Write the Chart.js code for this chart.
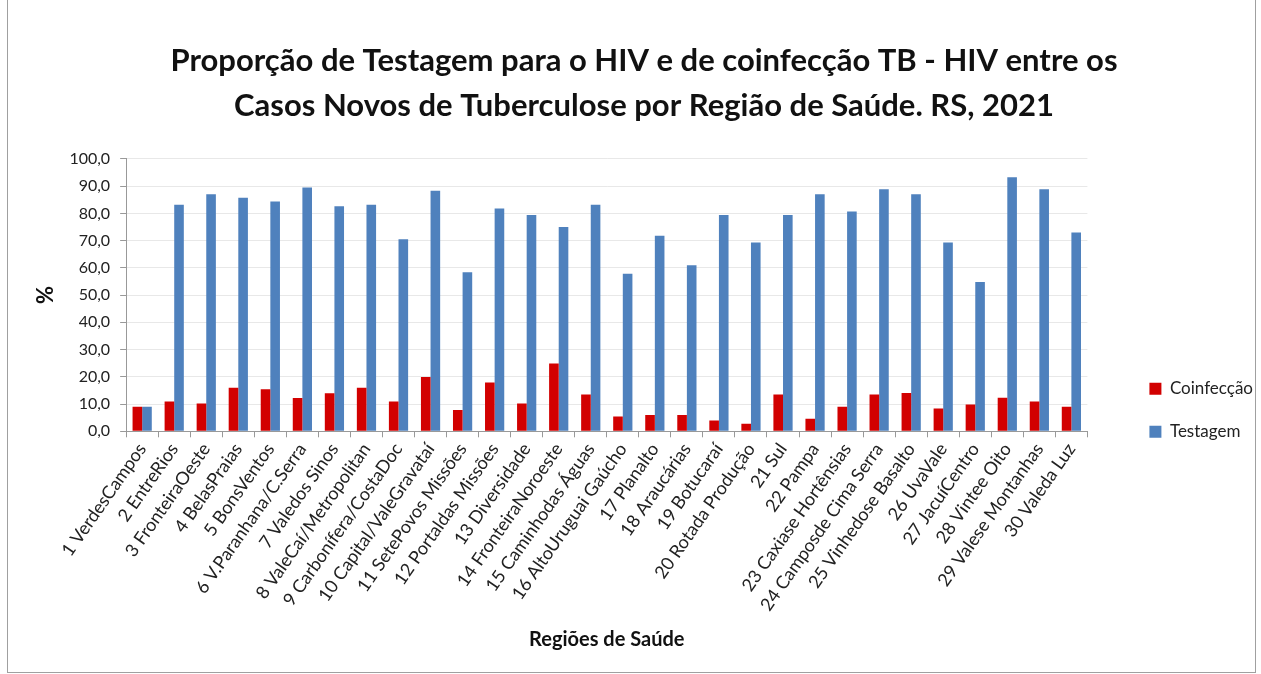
<!DOCTYPE html>
<html>
<head>
<meta charset="utf-8">
<script src="https://cdn.jsdelivr.net/npm/chart.js@4.4.1/dist/chart.umd.min.js"></script>
<style>
  body { margin: 0; background: #fff; }
  #wrap { position: absolute; left: 7px; top: -1px; width: 1247px; height: 672px; border: 1px solid #a0a0a0; }
</style>
</head>
<body>
<div id="wrap"><canvas id="hivChart"></canvas></div>
<script>
var regioes = [
  '1 VerdesCampos', '2 EntreRios', '3 FronteiraOeste', '4 BelasPraias', '5 BonsVentos',
  '6 V.Paranhana/C.Serra', '7 Valedos Sinos', '8 ValeCaí/Metropolitan', '9 Carbonífera/CostaDoc',
  '10 Capital/ValeGravataí', '11 SetePovos Missões', '12 Portaldas Missões', '13 Diversidade',
  '14 FronteiraNoroeste', '15 Caminhodas Águas', '16 AltoUruguai Gaúcho', '17 Planalto',
  '18 Araucárias', '19 Botucaraí', '20 Rotada Produção', '21 Sul', '22 Pampa',
  '23 Caxiase Hortênsias', '24 Camposde Cima Serra', '25 Vinhedose Basalto', '26 UvaVale',
  '27 JacuíCentro', '28 Vintee Oito', '29 Valese Montanhas', '30 Valeda Luz'
];

var coinfeccao = [9.0, 10.9, 10.2, 16.0, 15.4, 12.2, 14.0, 16.0, 10.9, 19.9,
  7.8, 17.9, 10.2, 24.9, 13.5, 5.4, 6.0, 6.0, 4.0, 2.8,
  13.5, 4.6, 9.0, 13.5, 14.1, 8.4, 9.8, 12.3, 10.9, 9.0];

var testagem = [9.0, 83.2, 87.0, 85.7, 84.4, 89.5, 82.6, 83.2, 70.5, 88.3,
  58.4, 81.8, 79.4, 75.0, 83.2, 57.8, 71.8, 61.0, 79.4, 69.3,
  79.4, 87.0, 80.7, 88.9, 87.0, 69.3, 54.8, 93.3, 88.9, 73.0];

var tituloLinhas = [
  'Proporção de Testagem para o HIV e de coinfecção TB - HIV entre os',
  'Casos Novos de Tuberculose por Região de Saúde. RS, 2021'
];

Chart.defaults.font.family = 'Lato, "Open Sans", sans-serif';
Chart.defaults.color = '#222';

// push the legend down/right a bit, like in the original chart
var moveLegend = {
  id: 'moveLegend',
  afterLayout: function (chart) {
    var lg = chart.legend;
    lg.top += 35; lg.bottom += 35;
    lg.left += 8; lg.right += 8;
  }
};

var ctx = document.getElementById('hivChart').getContext('2d');
var hivChart = new Chart(ctx, {
  type: 'bar',
  data: {
    labels: regioes,
    datasets: [{
      label: 'Coinfecção',
      data: coinfeccao,
      backgroundColor: '#d20000',
      barPercentage: 1,
      categoryPercentage: 0.6
    }, {
      label: 'Testagem',
      data: testagem,
      backgroundColor: '#4f81bd',
      barPercentage: 1,
      categoryPercentage: 0.6
    }]
  },
  plugins: [moveLegend],
  options: {
    responsive: true,
    maintainAspectRatio: false,
    animation: false,
    layout: { padding: { left: 25, right: 0, top: 0, bottom: 16 } },
    plugins: {
      title: {
        display: true,
        text: tituloLinhas,
        color: '#111',
        font: { size: 31, weight: 'bold', lineHeight: 1.45 },
        padding: { top: 39, bottom: 30 }
      },
      legend: {
        position: 'right',
        align: 'end',
        fullSize: false,
        labels: {
          boxWidth: 12,
          boxHeight: 12,
          padding: 26,
          font: { size: 17 },
          color: '#222'
        }
      },
      tooltip: { enabled: false }
    },
    scales: {
      x: {
        grid: { offset: true, drawOnChartArea: false, drawTicks: true, tickLength: 6, color: '#999' },
        border: { color: '#999' },
        ticks: { minRotation: 55, maxRotation: 55, autoSkip: false, font: { size: 18 }, color: '#222', padding: 2 },
        title: { display: true, text: 'Regiões de Saúde', font: { size: 20, weight: 'bold' }, color: '#111', padding: { top: 11 } }
      },
      y: {
        min: 0,
        max: 100,
        ticks: {
          stepSize: 10,
          padding: 10,
          font: { size: 16 },
          color: '#222',
          callback: function (v) { return v.toFixed(1).replace('.', ','); }
        },
        grid: { color: '#e8e8e8', tickLength: 6, tickColor: '#999' },
        border: { color: '#999' },
        title: { display: true, text: '%', font: { size: 22, weight: 'bold' }, color: '#111', padding: { top: 0, bottom: 0 } }
      },
      espaco: {
        position: 'right',
        display: true,
        grid: { display: false },
        border: { display: false },
        ticks: { display: false },
        afterFit: function (axis) { axis.width = 28; }
      }
    }
  }
});
</script>
</body>
</html>
